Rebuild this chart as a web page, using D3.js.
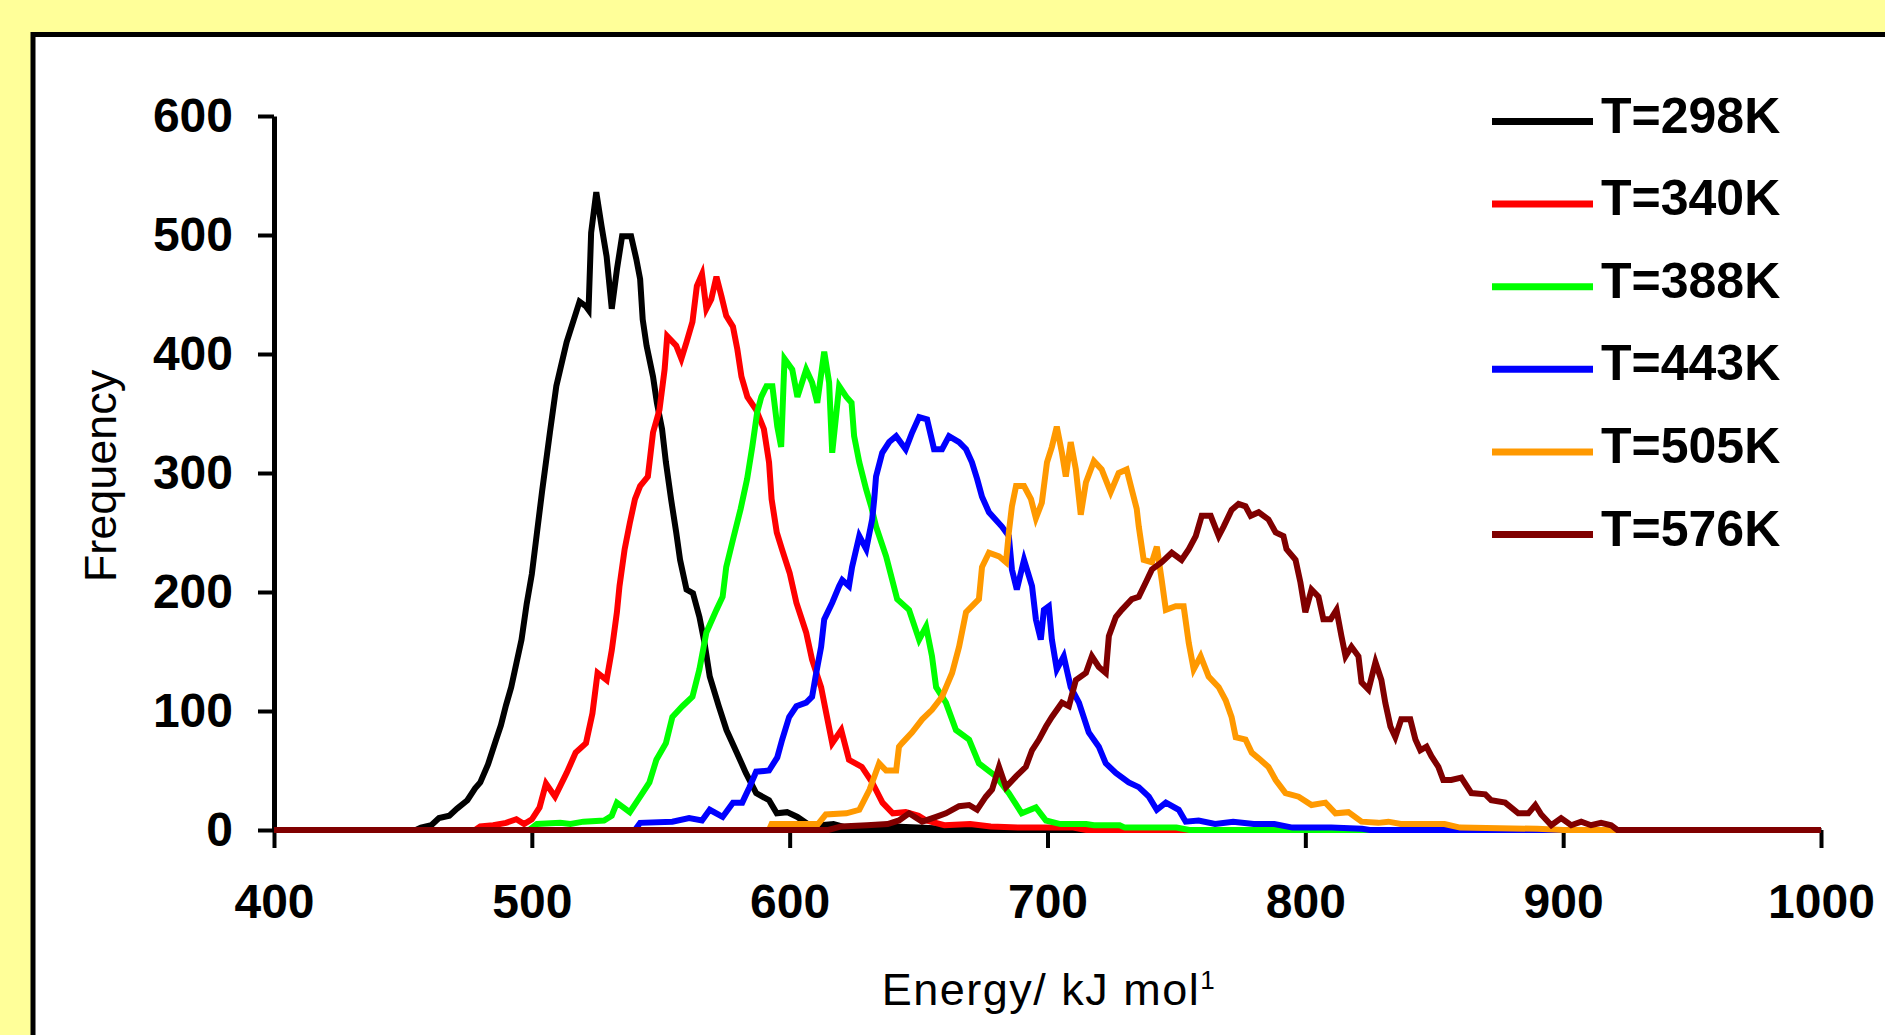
<!DOCTYPE html>
<html>
<head>
<meta charset="utf-8">
<script src="https://cdn.jsdelivr.net/npm/d3@7"></script>
<style>
  body { margin: 0; background: #ffff99; }
  svg { display: block; }
  text { font-family: "Liberation Sans", Arial, sans-serif; }
</style>
</head>
<body>
<svg width="1885" height="1035"></svg>
<script>
// energy (kJ/mol) vs frequency
var black298 = [[400,0],[455,0],[457,2],[461,4],[464,10],[468,12],[471,18],[475,25],[478,35],[480,40],[483,55],[486,75],[488,88],[490,105],[492,120],[494,140],[496,160],[498,190],[500,215],[502,250],[504,285],[507,334],[509.5,373],[511,387],[513.5,410],[516,427],[518.5,444],[521,440],[522,437],[523,502],[525,536],[527,508],[529,482],[531,438],[533,471],[535,499],[538.5,499],[540.5,480],[542,463],[543,429],[544.5,407],[547,381],[548.5,359],[550.5,337],[552,309],[554,278],[556,250],[557.5,227],[560,202],[562.5,199],[565,179],[567,157],[569,129],[572.5,104],[575.5,84],[579.5,65],[583,48],[587,31],[592,25],[595,14],[599,15],[603,11],[607,5],[612,4],[617,5],[622,2],[630,1],[640,3],[650,2],[660,1],[670,0],[1000,0]];

var red340 = [[400,0],[478,0],[480,3],[485,4],[490,6],[494,9],[497,5],[500,9],[503,19],[505.5,39],[509,28],[513.5,48],[517,65],[521,73],[523.5,98],[525.5,132],[529,126],[531,151],[533,183],[534,205],[536,236],[538,258],[540,278],[542,289],[545,297],[547,334],[549.5,353],[551.5,387],[552.5,415],[556,407],[558,396],[560,410],[562.3,427],[564,457],[566,467],[567.7,438],[569.6,446],[571.6,465],[573.5,449],[575.4,432],[578,423],[579.7,404],[581.3,381],[583.6,364],[587,353],[590,337],[592,309],[593,278],[595,250],[597,236],[600,216],[602.6,191],[606.4,166],[608.7,143],[612.2,120],[614.2,98],[616.5,73],[620,84],[623,59],[628,53],[632,40],[636,23],[640,14],[645,15],[650,12],[653,8],[660,4],[670,5],[678,3],[690,2],[710,2],[715,0],[1000,0]];

var green388 = [[400,0],[499,0],[502,5],[511,6],[515,5],[520,7],[528,8],[531,12],[533,23],[538,15],[542,28],[545.6,40],[548.3,59],[552,73],[554.5,95],[558.4,104],[562.3,112],[565,135],[567.7,166],[571.6,185],[574,196],[575.4,221],[578,244],[581,270],[583.5,295],[585.5,322],[587.4,351],[589,364],[591,373],[593.3,373],[595.2,339],[596.7,322],[598,396],[601,387],[603,364],[606.4,387],[608.7,376],[610.7,359],[613.4,402],[615.3,376],[616.5,317],[619.2,373],[622,364],[624,359],[625,331],[627,309],[629.7,286],[631.6,272],[633.5,255],[637.4,230],[641.7,194],[646.3,185],[650.2,160],[652.9,171],[655.2,146],[656.8,120],[660.6,107],[664.5,84],[669.6,76],[673.4,56],[680,45],[685,31],[690,14],[695.5,19],[699.4,8],[705,5],[715,5],[718,4],[728,4],[730,2],[750,2],[755,0],[1000,0]];

var blue443 = [[400,0],[540,0],[542,6],[554.5,7],[561,10],[566,8],[569,17],[574,11],[578,23],[581.6,23],[584.4,36],[587,49],[592,50],[595.2,61],[597.1,76],[599.8,95],[602.6,104],[606.4,107],[608.7,112],[610.3,132],[612.2,154],[613.4,177],[616.5,191],[619.2,205],[620.4,210],[623,205],[624.2,221],[627,247],[629.7,236],[632,261],[632.8,278],[633.5,297],[635.9,317],[638.6,326],[641.3,331],[645,320],[647.5,334],[650.2,347],[653.3,345],[656,320],[659.1,320],[661.8,331],[665.7,326],[668.4,320],[670.7,309],[672.7,295],[674.6,280],[677.3,267],[682.3,255],[685,247],[686.2,219],[688.1,202],[690.9,227],[694,205],[695.5,177],[697.4,160],[698.6,185],[700.5,188],[701.7,160],[703.6,135],[706.3,146],[709,120],[712.2,107],[716,82],[719.9,70],[722.6,56],[726.5,48],[731.5,40],[735.4,36],[739.3,28],[742.4,17],[745.9,23],[750.9,17],[753.6,7],[758.6,8],[765,5],[772,7],[780,5],[788,5],[795,2],[810,2],[822,1],[825,0],[1000,0]];

var orange505 = [[400,0],[592,0],[593,5],[611,5],[614,13],[622,14],[627,17],[631,34],[634.7,56],[637.4,50],[641.3,50],[642.4,70],[643.6,73],[647.5,82],[651.4,93],[655.2,101],[659.1,112],[663,132],[665.7,154],[668.4,183],[673.4,194],[674.6,221],[677.3,233],[681.2,230],[683.9,225],[685,250],[686.2,272],[687.8,289],[690.9,289],[693.6,278],[695.5,262],[697.8,275],[699.8,309],[701.7,322],[703.6,339],[705.6,317],[707.1,297],[709,326],[711,303],[712.9,265],[714.9,292],[718,310],[721,303],[724.5,284],[727.6,300],[730.7,303],[732.7,286],[734.6,270],[735.4,255],[737.3,227],[740.5,225],[742.4,238],[744.3,210],[745.9,185],[749.7,188],[752.8,188],[754.8,157],[756.7,135],[759.4,146],[762.5,129],[766.4,120],[769.1,109],[771.4,95],[773,78],[776.8,76],[779.2,65],[782,60],[785.7,53],[788.5,42],[792.3,31],[797.4,28],[802.4,21],[807.8,23],[811.7,14],[816.7,15],[821.8,7],[828.3,6],[832.2,7],[837,5],[854,5],[860,2],[890,1],[900,0],[1000,0]];

var brown576 = [[400,0],[615,0],[620,3],[630,4],[638,5],[642.4,8],[646.3,14],[651.4,7],[656.8,11],[660.6,14],[665.7,20],[669.6,21],[672.7,17],[676.1,28],[678.5,34],[681.2,53],[683.9,36],[687.8,45],[691.6,53],[694,67],[696.7,76],[699.4,87],[701.7,95],[705.6,107],[708.3,104],[711,126],[714.9,132],[717.2,146],[719.9,137],[722.6,132],[723.8,163],[726.5,179],[728.8,185],[732.7,194],[735.4,196],[738.1,208],[740.5,219],[744.3,225],[748.2,233],[752,227],[754.8,236],[757.5,247],[759.8,264],[763.3,264],[766.4,247],[768.3,255],[771.4,269],[774.1,274],[776.8,272],[778.8,264],[781.9,267],[785.7,261],[788.5,250],[791.5,247],[792.7,236],[796.2,227],[798.1,208],[800,183],[802.4,202],[805.1,196],[807,177],[809.8,177],[812.1,185],[814,163],[815.6,146],[817.9,154],[820.6,146],[821.8,124],[824.5,118],[827.2,141],[829.5,126],[831,107],[833,87],[834.9,78],[837.2,93],[840.7,93],[842.7,76],[844.6,67],[847,70],[848.9,62],[851.6,53],[853.5,42],[856.6,42],[860.5,44],[864.4,31],[869.8,30],[872.1,25],[877.5,23],[882.6,14],[886.5,14],[889.2,21],[891.5,13],[895.4,4],[899.2,10],[903.1,4],[907,7],[910.8,4],[914.7,6],[918.6,4],[921,0],[1000,0]];

var seriesNames = ["T=298K", "T=340K", "T=388K", "T=443K", "T=505K", "T=576K"];
var seriesColors = ["#000000", "#ff0000", "#00ff00", "#0000ff", "#ff9900", "#800000"];
var seriesData = [black298, red340, green388, blue443, orange505, brown576];

var xTicks = [400, 500, 600, 700, 800, 900, 1000];
var yTicks = [0, 100, 200, 300, 400, 500, 600];

var svg = d3.select("svg");

// white panel with the heavy black frame (runs off the page right/bottom)
svg.append("rect")
    .attr("x", 33).attr("y", 34.5)
    .attr("width", 1900).attr("height", 1100)
    .style("fill", "#fff")
    .style("stroke", "#000")
    .style("stroke-width", 5);

var x = d3.scaleLinear().domain([400, 1000]).range([274, 1821]);
var y = d3.scaleLinear().domain([0, 600]).range([830, 116]);

svg.append("g")
    .attr("transform", "translate(274,0)")
    .call(d3.axisLeft(y).tickValues(yTicks).tickFormat(d3.format("d"))
          .tickSize(16).tickSizeOuter(0).tickPadding(25));

svg.append("g")
    .attr("transform", "translate(0,830)")
    .call(d3.axisBottom(x).tickValues(xTicks).tickFormat(d3.format("d"))
          .tickSize(18).tickSizeOuter(0).tickPadding(36));

svg.selectAll(".domain").style("stroke", "#000").style("stroke-width", 5);
svg.selectAll(".tick line").style("stroke", "#000").style("stroke-width", 4);
svg.selectAll(".tick text")
    .style("font-size", "48px")
    .style("font-weight", "bold")
    .style("fill", "#000");

// lines
var line = d3.line()
    .x(function(d) { return x(d[0]); })
    .y(function(d) { return y(d[1]); });

svg.selectAll("path.series")
    .data(seriesData)
    .enter()
    .append("path")
    .attr("class", "series")
    .attr("d", line)
    .style("fill", "none")
    .style("stroke", function(d, i) { return seriesColors[i]; })
    .style("stroke-width", 6)
    .style("stroke-linejoin", "miter");

// legend
var legend = svg.selectAll("g.legend")
    .data(seriesNames)
    .enter()
    .append("g")
    .attr("class", "legend")
    .attr("transform", function(d, i) { return "translate(0," + (121.5 + i * 82.6) + ")"; });

legend.append("line")
    .attr("x1", 1492).attr("x2", 1593)
    .style("stroke", function(d, i) { return seriesColors[i]; })
    .style("stroke-width", 7);

legend.append("text")
    .attr("x", 1601).attr("y", 11)
    .text(function(d) { return d; })
    .style("font-size", "50px")
    .style("font-weight", "bold");

// axis titles
svg.append("text")
    .attr("transform", "translate(116,476) rotate(-90)")
    .attr("text-anchor", "middle")
    .style("font-size", "45px")
    .text("Frequency");

var xt = svg.append("text")
    .attr("x", 1049).attr("y", 1005)
    .attr("text-anchor", "middle")
    .style("font-size", "45px")
    .style("letter-spacing", "1.5px");
xt.append("tspan").text("Energy/ kJ mol");
xt.append("tspan").attr("dy", -16).style("font-size", "26px").text("1");
</script>
</body>
</html>
